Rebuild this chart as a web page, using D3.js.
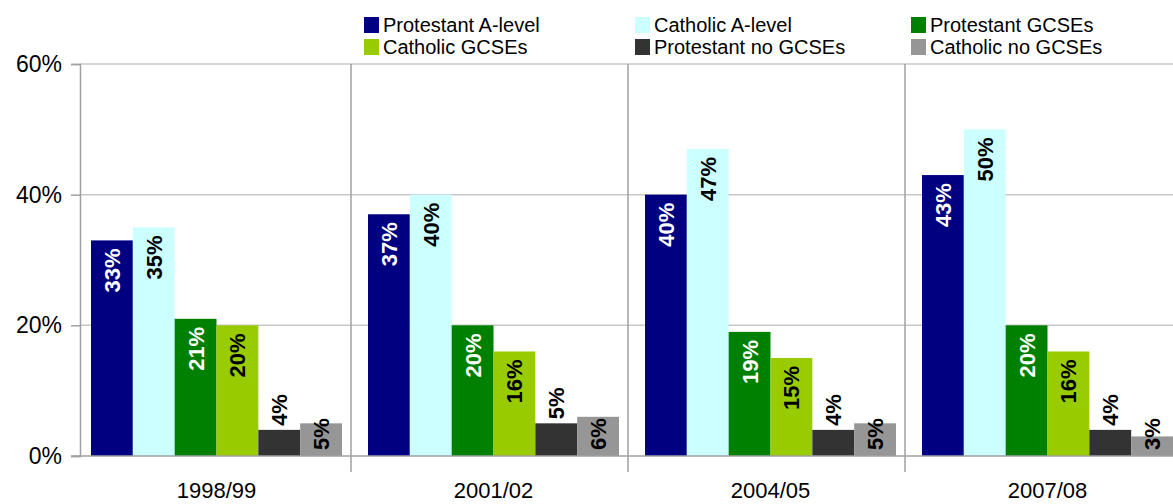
<!DOCTYPE html>
<html>
<head>
<meta charset="utf-8">
<script src="https://cdn.jsdelivr.net/npm/d3@7"></script>
<style>
  body { margin: 0; background: #fff; }
  svg { display: block; font-family: "Liberation Sans", Arial, sans-serif; }
</style>
</head>
<body>
<div id="chart"></div>
<script>
const years = ['1998/99', '2001/02', '2004/05', '2007/08'];
const seriesNames = ['Protestant A-level', 'Catholic A-level', 'Protestant GCSEs',
  'Catholic GCSEs', 'Protestant no GCSEs', 'Catholic no GCSEs'];
// values per series, one per year (%)
const protestantALevel = [33, 37, 40, 43];
const catholicALevel = [35, 40, 47, 50];
const protestantGCSEs = [21, 20, 19, 20];
const catholicGCSEs = [20, 16, 15, 16];
const protestantNoGCSEs = [4, 5, 4, 4];
const catholicNoGCSEs = [5, 6, 5, 3];
const yTicks = [0, 20, 40, 60];

const seriesValues = [protestantALevel, catholicALevel, protestantGCSEs,
  catholicGCSEs, protestantNoGCSEs, catholicNoGCSEs];
const colors = ['#000080', '#ccffff', '#008000', '#99cc00', '#333333', '#969696'];
const labelColors = ['#fff', '#000', '#fff', '#000', '#000', '#000'];
// where the value label sits: inside top, above bar, or from the base
const labelPos = ['end', 'end', 'end', 'end', 'above', 'base'];

const width = 1173, height = 504;

const svg = d3.select('#chart').append('svg')
  .attr('width', width)
  .attr('height', height);

const x0 = d3.scaleBand().domain(years).range([78, 1186]);
const x1 = d3.scaleBand().domain(d3.range(seriesNames.length)).range([13, 264]);
const y = d3.scaleLinear().domain([0, 60]).range([456, 64]);

// gridlines
svg.append('g')
  .selectAll('line')
  .data(yTicks.filter(d => d > 0))
  .enter().append('line')
  .attr('x1', 80).attr('x2', width)
  .attr('y1', d => y(d)).attr('y2', d => y(d))
  .attr('stroke', '#c8c8c8')
  .attr('stroke-width', 1.5);

// category separators
svg.append('g')
  .selectAll('line')
  .data(years.slice(1))
  .enter().append('line')
  .attr('x1', d => x0(d) - 4).attr('x2', d => x0(d) - 4)
  .attr('y1', y(60)).attr('y2', y(0) + 16)
  .attr('stroke', '#a0a0a0')
  .attr('stroke-width', 1.5);

// bars
const rows = [];
years.forEach((yr, i) => {
  seriesValues.forEach((vals, s) => rows.push({ year: yr, s, v: vals[i] }));
});

svg.append('g')
  .selectAll('rect')
  .data(rows)
  .enter().append('rect')
  .attr('x', d => x0(d.year) + x1(d.s))
  .attr('y', d => y(d.v))
  .attr('width', x1.bandwidth())
  .attr('height', d => y(0) - y(d.v))
  .attr('fill', d => colors[d.s]);

// value labels (rotated)
svg.append('g')
  .selectAll('text')
  .data(rows)
  .enter().append('text')
  .attr('transform', d => {
    const cx = x0(d.year) + x1(d.s) + x1.bandwidth() / 2;
    let ay;
    if (labelPos[d.s] === 'end') ay = y(d.v) + 8;
    else if (labelPos[d.s] === 'above') ay = y(d.v) - 4;
    else ay = y(0) - 6;
    return `translate(${cx},${ay}) rotate(-90)`;
  })
  .attr('text-anchor', d => labelPos[d.s] === 'end' ? 'end' : 'start')
  .attr('dy', '0.36em')
  .attr('font-size', 22)
  .attr('font-weight', 'bold')
  .attr('fill', d => labelColors[d.s])
  .text(d => d.v + '%');

// y axis
const yAxis = svg.append('g')
  .attr('transform', 'translate(80,0)')
  .call(d3.axisLeft(y).tickValues(yTicks).tickSize(9).tickPadding(9).tickFormat(d => d + '%'));
yAxis.select('.domain').attr('stroke', '#a0a0a0').attr('stroke-width', 1.5);
yAxis.selectAll('.tick line').attr('stroke', '#a0a0a0').attr('stroke-width', 1.5);
yAxis.selectAll('.tick text')
  .attr('font-size', 23)
  .attr('font-family', '"Liberation Sans", Arial, sans-serif')
  .attr('fill', '#000');

// x axis line
svg.append('line')
  .attr('x1', 71).attr('x2', width)
  .attr('y1', y(0)).attr('y2', y(0))
  .attr('stroke', '#a0a0a0')
  .attr('stroke-width', 1.5);

// category labels
svg.append('g')
  .selectAll('text')
  .data(years)
  .enter().append('text')
  .attr('x', d => x0(d) + (x1(0) + x1(5) + x1.bandwidth()) / 2)
  .attr('y', 498)
  .attr('text-anchor', 'middle')
  .attr('font-size', 22)
  .text(d => d);

// legend
const legend = svg.append('g');
const legendItems = legend.selectAll('g')
  .data(seriesNames)
  .enter().append('g')
  .attr('transform', (d, i) => `translate(${[364, 635, 911][i % 3]},${i < 3 ? 17 : 39})`);

legendItems.append('rect')
  .attr('width', 15).attr('height', 16)
  .attr('fill', (d, i) => colors[i]);

legendItems.append('text')
  .attr('x', 19)
  .attr('y', 15)
  .attr('font-size', 20)
  .text(d => d);
</script>
</body>
</html>
